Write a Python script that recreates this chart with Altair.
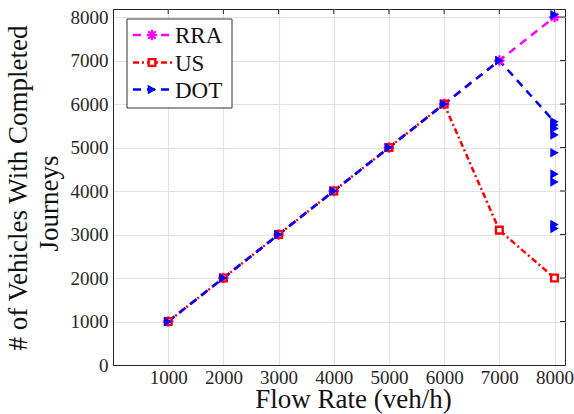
import altair as alt
import pandas as pd

# ---- data ----
flow = [1000, 2000, 3000, 4000, 5000, 6000, 7000, 8000]
rra = [1000, 2000, 3000, 4000, 5000, 6000, 7000, 8000]
us = [1000, 2000, 3000, 4000, 5000, 6000, 3100, 2000]
dot = [1000, 2000, 3000, 4000, 5000, 6000, 7000, 5590]
dot_extra_flow = [8000, 8000, 8000, 8000, 8000, 8000, 8000, 8000, 8000]
dot_extra = [8050, 5520, 5440, 5290, 4880, 4390, 4210, 3230, 3140]
series = ["RRA", "US", "DOT"]
colors = ["#ff00ff", "#ff0000", "#0000ff"]
x_ticks = [1000, 2000, 3000, 4000, 5000, 6000, 7000, 8000]
y_ticks = [0, 1000, 2000, 3000, 4000, 5000, 6000, 7000, 8000]

FONT = "Liberation Serif"
W, H = 452, 356
xs = alt.Scale(domain=[0, 8190], nice=False, zero=False)
ys = alt.Scale(domain=[0, 8185], nice=False, zero=False)

df_rra = pd.DataFrame({"x": flow, "y": rra})
df_us = pd.DataFrame({"x": flow, "y": us})
df_dot = pd.DataFrame({"x": flow, "y": dot})
df_dot_extra = pd.DataFrame({"x": dot_extra_flow, "y": dot_extra})

x_axis = alt.Axis(values=x_ticks, format="d", labelFont=FONT, labelFontSize=19, labelColor="#262626",
                  tickSize=0, labelPadding=3, domainColor="#262626", grid=True,
                  gridColor="#e3e3e3", gridWidth=1.2, title="Flow Rate (veh/h)",
                  titleFont=FONT, titleFontSize=27, titleFontWeight="normal",
                  titleColor="#111111", titleX=240, titleY=42, titleAlign="center",
                  titleBaseline="alphabetic", labelFlush=False, labelOverlap=False)
y_axis = alt.Axis(values=y_ticks, format="d", labelFont=FONT, labelFontSize=19, labelColor="#262626",
                  tickSize=0, labelPadding=5, domainColor="#262626", grid=True,
                  gridColor="#e3e3e3", gridWidth=1.2, title="# of Vehicles With Completed",
                  titleFont=FONT, titleFontSize=27, titleFontWeight="normal",
                  titleColor="#111111", titleAngle=270, titleX=-95, titleY=178.5,
                  titleAlign="center", titleBaseline="middle", labelFlush=False, labelOverlap=False)

X = alt.X("x:Q", scale=xs, axis=x_axis)
Y = alt.Y("y:Q", scale=ys, axis=y_axis)

ASTERISK = "M0,-1L0,1M-1,0L1,0M-0.7,-0.7L0.7,0.7M-0.7,0.7L0.7,-0.7"

rra_line = alt.Chart(df_rra).mark_line(color=colors[0], strokeDash=[8, 6], strokeWidth=2.5).encode(x=X, y=Y)
rra_pts = alt.Chart(df_rra).mark_point(shape=ASTERISK, filled=False, color=colors[0],
                                       strokeWidth=2.2, size=110, opacity=1).encode(x=X, y=Y)
us_line = alt.Chart(df_us).mark_line(color=colors[1], strokeDash=[6, 3, 2, 3], strokeWidth=2.5).encode(x=X, y=Y)
us_pts = alt.Chart(df_us).mark_point(shape="square", filled=True, fill="white", stroke=colors[1],
                                     strokeWidth=2.4, size=45, opacity=1).encode(x=X, y=Y)
dot_line = alt.Chart(df_dot).mark_line(color=colors[2], strokeDash=[8, 6], strokeWidth=2.5).encode(x=X, y=Y)
dot_pts = alt.Chart(df_dot).mark_point(shape="triangle-right", filled=True, color=colors[2],
                                       size=95, opacity=1).encode(x=X, y=Y)
dot_extra_pts = alt.Chart(df_dot_extra).mark_point(shape="triangle-right", filled=True,
                                                   color=colors[2], size=95, opacity=1).encode(x=X, y=Y)

# inward ticks on top and right border
df_xt = pd.DataFrame({"x": x_ticks})
df_yt = pd.DataFrame({"y": y_ticks[1:]})
top_ticks = alt.Chart(df_xt).mark_rule(color="#262626", strokeWidth=1).encode(
    x=X, y=alt.value(0), y2=alt.value(5))
right_ticks = alt.Chart(df_yt).mark_rule(color="#262626", strokeWidth=1).encode(
    y=Y, x=alt.value(W - 5), x2=alt.value(W))

# second line of the y title
journeys = alt.Chart(pd.DataFrame({"t": ["Journeys"]})).mark_text(
    font=FONT, fontSize=27, angle=270, align="center", baseline="middle", color="#111111").encode(
    text="t:N", x=alt.value(-63), y=alt.value(194.5))

# legend box
legend_layers = [
    alt.Chart(pd.DataFrame({"a": [0]})).mark_rect(fill="white", stroke="#333333", strokeWidth=1).encode(
        x=alt.value(14), x2=alt.value(119), y=alt.value(10), y2=alt.value(99))
]
legend_rows = [26, 53.5, 80.5]
dashes = [[8, 6], [6, 3, 2, 3], [8, 6]]
for i, name in enumerate(series):
    d = pd.DataFrame({"s": [name]})
    yv = legend_rows[i]
    legend_layers.append(alt.Chart(d).mark_rule(color=colors[i], strokeDash=dashes[i], strokeWidth=2.5).encode(
        x=alt.value(20), x2=alt.value(59), y=alt.value(yv)))
    if i == 0:
        m = alt.Chart(d).mark_point(shape=ASTERISK, filled=False, color=colors[i], strokeWidth=2.2,
                                    size=110, opacity=1)
    elif i == 1:
        m = alt.Chart(d).mark_point(shape="square", filled=True, fill="white", stroke=colors[i],
                                    strokeWidth=2.4, size=45, opacity=1)
    else:
        m = alt.Chart(d).mark_point(shape="triangle-right", filled=True, color=colors[i], size=95, opacity=1)
    legend_layers.append(m.encode(x=alt.value(39), y=alt.value(yv)))
    legend_layers.append(alt.Chart(d).mark_text(font=FONT, fontSize=23, align="left", baseline="middle",
                                                color="#111111").encode(
        text="s:N", x=alt.value(62), y=alt.value(yv + 1)))

chart = alt.layer(
    rra_line, us_line, dot_line, rra_pts, us_pts, dot_pts, dot_extra_pts,
    top_ticks, right_ticks, journeys, *legend_layers
).properties(
    width=W, height=H,
    padding={"left": 113, "top": 9, "right": 9, "bottom": 49},
    autosize=alt.AutoSizeParams(type="none"),
    background="white",
).configure_view(stroke="#262626", strokeWidth=1)

chart.save("out.html", embed_options={"renderer": "svg", "actions": False})
